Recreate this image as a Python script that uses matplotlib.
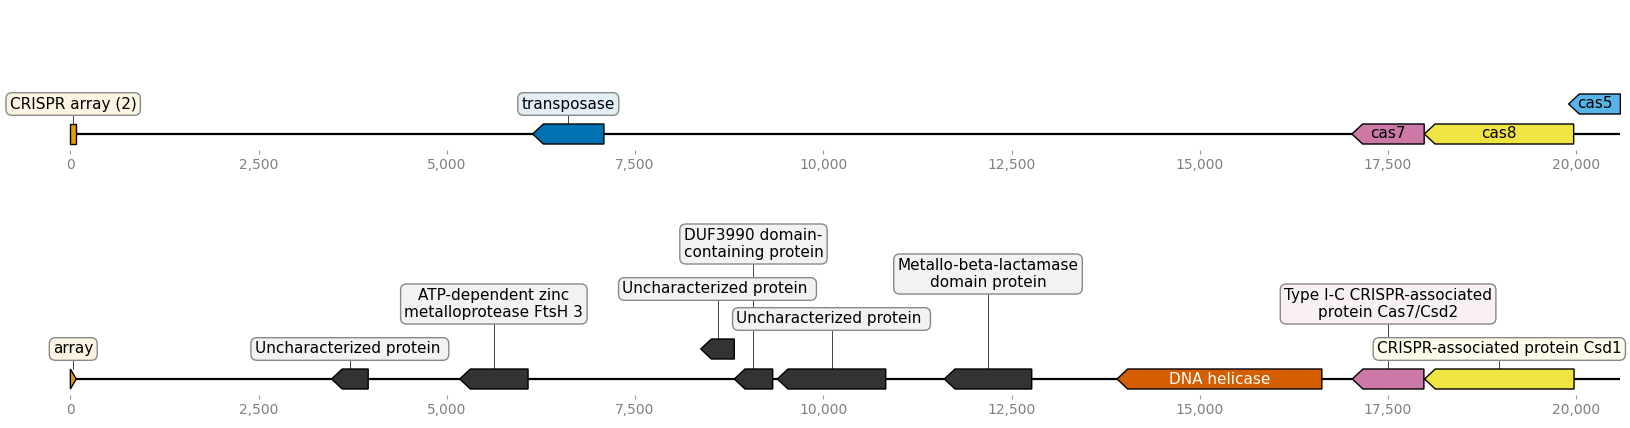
import matplotlib
matplotlib.use("Agg")
import matplotlib.pyplot as plt
from matplotlib.patches import Polygon
from matplotlib.colors import to_rgb

plt.rcParams['font.family'] = ['DejaVu Sans']

SEQ_LEN = 20585

# ---- top record ----
top_starts = [1, 6140, 17020, 17982, 19898]
top_ends = [75, 7087, 17980, 19965, 20585]
top_strands = [0, -1, -1, -1, -1]
top_labels = ["CRISPR array (2)", "transposase", "cas7", "cas8", "cas5"]
top_colors = ["#E69F00", "#0072B2", "#CC79A7", "#F0E442", "#56B4E9"]

# ---- bottom record ----
bot_starts = [1, 3469, 5171, 8372, 8818, 9389, 11607, 13901, 17025, 17985]
bot_ends = [78, 3956, 6079, 8818, 9328, 10829, 12768, 16621, 17976, 19970]
bot_strands = [1, -1, -1, -1, -1, -1, -1, -1, -1, -1]
bot_labels = ["array", "Uncharacterized protein ",
              "ATP-dependent zinc\nmetalloprotease FtsH 3",
              "Uncharacterized protein ",
              "DUF3990 domain-\ncontaining protein",
              "Uncharacterized protein ",
              "Metallo-beta-lactamase\ndomain protein",
              "DNA helicase",
              "Type I-C CRISPR-associated\nprotein Cas7/Csd2",
              "CRISPR-associated protein Csd1"]
bot_colors = ["#E69F00", "#333333", "#333333", "#333333", "#333333", "#333333",
              "#333333", "#D55E00", "#CC79A7", "#F0E442"]

tick_values = [0, 2500, 5000, 7500, 10000, 12500, 15000, 17500, 20000]
tick_labels = ["0", "2,500", "5,000", "7,500", "10,000", "12,500", "15,000", "17,500", "20,000"]

# ---- layout (feature level, label mode / label height in px above line) ----
top_layout = [(0, 30), (0, 30), (0, "inline"), (0, "inline"), (1, "inline")]
bot_layout = [(0, 30), (0, 30), (0, 75), (1, 90), (0, 135), (0, 60), (0, 105),
              (0, "inline_white"), (0, 75), (0, 30)]

W, H, DPI = 1631, 428, 100
PX_PER_BP = 0.0753
X0_PX = 70.3
XLIM = ((0 - X0_PX) / PX_PER_BP, (W - X0_PX) / PX_PER_BP)
LEVEL_PX = 30
FEAT_H = 20
HEAD_BP = 10.7 / PX_PER_BP


def lighten(c):
    r, g, b = to_rgb(c)
    a = 0.065 if (max(r, g, b) - min(r, g, b)) < 0.05 else 0.11
    return (1 - a * (1 - r), 1 - a * (1 - g), 1 - a * (1 - b))


def arrow_poly(start, end, strand, yc):
    h = FEAT_H / 2
    head = min(HEAD_BP, end - start)
    if strand == -1:
        return [(start, yc), (start + head, yc + h), (end, yc + h),
                (end, yc - h), (start + head, yc - h)]
    if strand == 1:
        return [(start, yc + h), (end - head, yc + h), (end, yc),
                (end - head, yc - h), (start, yc - h)]
    return [(start, yc + h), (end, yc + h), (end, yc - h), (start, yc - h)]


def draw_record(ax, starts, ends, strands, labels, colors, layout):
    ax.plot([0, SEQ_LEN], [0, 0], color="black", lw=1.6, zorder=1,
            solid_capstyle="butt")
    for s, e, st, lab, col, (lvl, lmode) in zip(starts, ends, strands, labels,
                                                colors, layout):
        yc = lvl * LEVEL_PX
        ax.add_patch(Polygon(arrow_poly(s, e, st, yc), closed=True,
                             facecolor=col, edgecolor="black", lw=1.0,
                             zorder=2))
        xc = (s + e) / 2
        if isinstance(lmode, str):
            tc = "white" if lmode == "inline_white" else "black"
            ax.text(xc, yc, lab, ha="center", va="center", fontsize=11,
                    color=tc, zorder=3)
        else:
            ax.plot([xc, xc], [yc + FEAT_H / 2, lmode], color="#444444",
                    lw=0.7, zorder=1.5)
            ax.text(xc, lmode, lab, ha="center", va="center", fontsize=11,
                    color="black", zorder=5, multialignment="center",
                    bbox=dict(boxstyle="round,pad=0.25,rounding_size=0.4",
                              fc=lighten(col), ec="#888888", lw=1.0))


def style_axis(ax, ylim):
    ax.set_xlim(*XLIM)
    ax.set_ylim(*ylim)
    for sp in ["left", "right", "top"]:
        ax.spines[sp].set_visible(False)
    ax.spines["bottom"].set_position(("data", -16))
    ax.spines["bottom"].set_visible(False)
    ax.set_yticks([])
    ax.set_xticks(tick_values)
    ax.set_xticklabels(tick_labels)
    ax.tick_params(axis="x", direction="out", length=3, width=0.8,
                   color="#999999", labelcolor="#808080", labelsize=10, pad=2.5)


fig = plt.figure(figsize=(W / DPI, H / DPI), dpi=DPI)
ax_top = fig.add_axes([0, 0.5, 1, 0.5])
ax_bot = fig.add_axes([0, 0.0, 1, 0.5])

draw_record(ax_top, top_starts, top_ends, top_strands, top_labels, top_colors, top_layout)
draw_record(ax_bot, bot_starts, bot_ends, bot_strands, bot_labels, bot_colors, bot_layout)
style_axis(ax_top, (-80, 134))
style_axis(ax_bot, (-49, 165))

fig.savefig("out.png", dpi=DPI)
